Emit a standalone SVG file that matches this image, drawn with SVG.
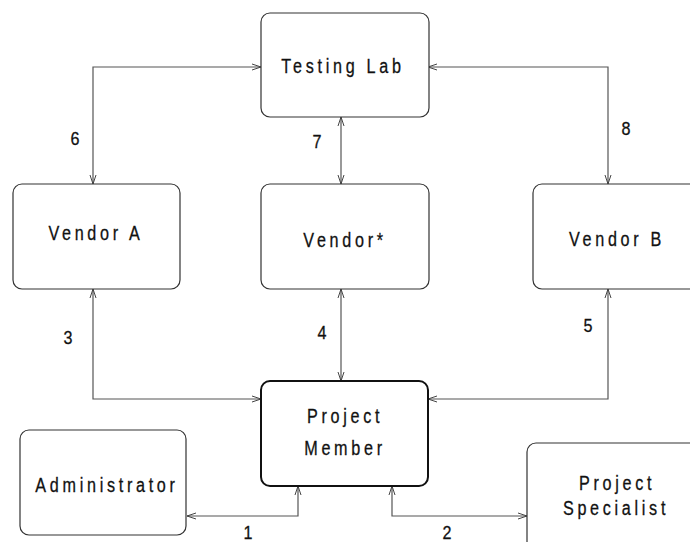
<svg xmlns="http://www.w3.org/2000/svg" width="690" height="542" viewBox="0 0 690 542">
<defs>
<marker id="arr" viewBox="-10 -5 12 10" refX="0" refY="0" markerWidth="12" markerHeight="10" markerUnits="userSpaceOnUse" orient="auto-start-reverse">
<path d="M-9,-3 L0,0 L-9,3" fill="none" stroke="#444" stroke-width="1"/>
</marker>
</defs>
<style>
.box{fill:#fff;stroke:#333;stroke-width:1.2}
.main{fill:#fff;stroke:#111;stroke-width:2}
.lbl{font-family:"Liberation Sans",Arial,sans-serif;font-size:21px;letter-spacing:4.8px;fill:#111;stroke:#111;stroke-width:0.3;text-anchor:middle}
.num{font-family:"Liberation Sans",Arial,sans-serif;font-size:19px;fill:#111;stroke:#111;stroke-width:0.3;text-anchor:middle}
.con{fill:none;stroke:#555;stroke-width:1.2;marker-start:url(#arr);marker-end:url(#arr)}
</style>
<rect width="690" height="542" fill="#fff"/>
<g id="connectors">
<path class="con" d="M261,67 H93 V184"/>
<path class="con" d="M428,67 H608 V184"/>
<path class="con" d="M341,117 V184"/>
<path class="con" d="M93,289 V399 H261"/>
<path class="con" d="M341,289 V381"/>
<path class="con" d="M608,289 V399 H428"/>
<path class="con" d="M298,486 V516 H187"/>
<path class="con" d="M392,486 V516 H527"/>
<g id="labels">
<text class="num" transform="translate(75,145) scale(0.85,1)">6</text>
<text class="num" transform="translate(317,148) scale(0.85,1)">7</text>
<text class="num" transform="translate(626,135) scale(0.85,1)">8</text>
<text class="num" transform="translate(68,344) scale(0.85,1)">3</text>
<text class="num" transform="translate(322,339) scale(0.85,1)">4</text>
<text class="num" transform="translate(588,332) scale(0.85,1)">5</text>
<text class="num" transform="translate(248,539) scale(0.85,1)">1</text>
<text class="num" transform="translate(447,539) scale(0.85,1)">2</text>
</g>
</g>
<g id="testing-lab">
<rect class="box" x="261" y="13" width="168" height="104" rx="9"/>
<text class="lbl" transform="translate(343,73) scale(0.77,1)">Testing Lab</text>
</g>
<g id="vendor-a">
<rect class="box" x="13" y="184" width="167" height="105" rx="9"/>
<text class="lbl" transform="translate(96,240) scale(0.77,1)">Vendor A</text>
</g>
<g id="vendor-star">
<rect class="box" x="261" y="184" width="168" height="105" rx="9"/>
<text class="lbl" transform="translate(345,247) scale(0.77,1)">Vendor*</text>
</g>
<g id="vendor-b">
<rect class="box" x="533" y="184" width="170" height="105" rx="9"/>
<text class="lbl" transform="translate(617,246) scale(0.77,1)">Vendor B</text>
</g>
<g id="project-member">
<rect class="main" x="261" y="381" width="167" height="105" rx="9"/>
<text class="lbl" transform="translate(345,423) scale(0.77,1)">Project</text>
<text class="lbl" transform="translate(345,455) scale(0.77,1)">Member</text>
</g>
<g id="administrator">
<rect class="box" x="20" y="430" width="166" height="105" rx="9"/>
<text class="lbl" transform="translate(107,492) scale(0.77,1)">Administrator</text>
</g>
<g id="project-specialist">
<rect class="box" x="527" y="443" width="175" height="110" rx="9"/>
<text class="lbl" transform="translate(617,490) scale(0.77,1)">Project</text>
<text class="lbl" transform="translate(616,515) scale(0.77,1)">Specialist</text>
</g>
</svg>
